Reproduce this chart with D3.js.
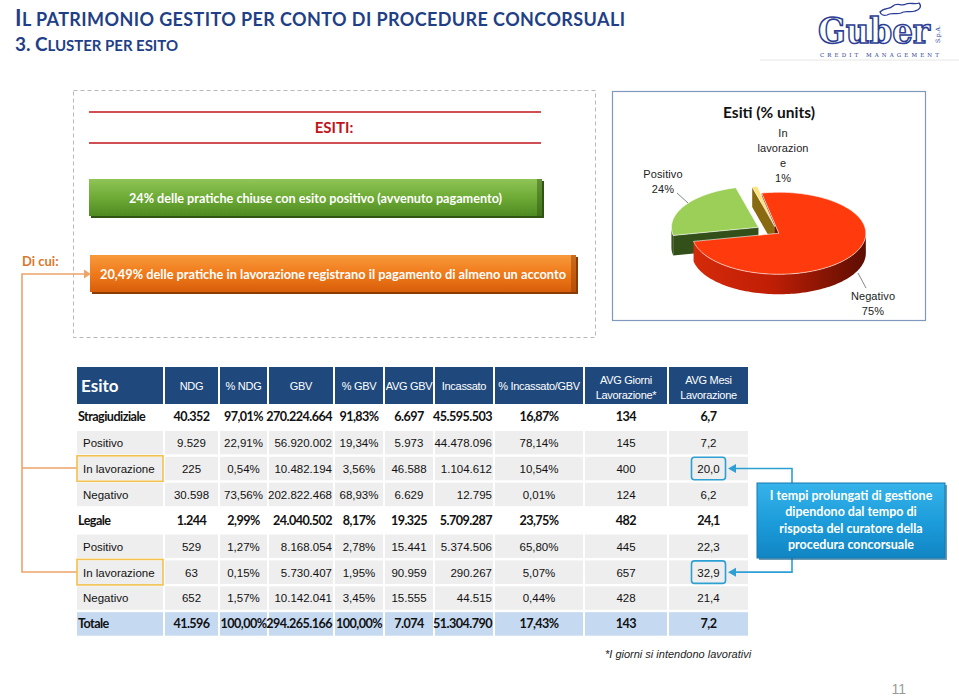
<!DOCTYPE html>
<html><head><meta charset="utf-8">
<script src="https://cdn.jsdelivr.net/npm/d3@7"></script>
<style>body{margin:0;background:#fff}svg{display:block}</style>
</head><body>
<script>
// ---------- DATA ----------
const titleLine1 = "Il patrimonio gestito per conto di procedure concorsuali";
const titleLine2 = "3. Cluster per esito";
const esitiHeading = "ESITI:";
const greenMessage = "24% delle pratiche chiuse con esito positivo (avvenuto pagamento)";
const diCui = "Di cui:";
const orangeMessage = "20,49% delle pratiche in lavorazione registrano il pagamento di almeno un acconto";

const pieTitle = "Esiti (% units)";
const pieCategories = ["Negativo", "Positivo", "In lavorazione"];
const pieValues = [75, 24, 1];

const headers = ["Esito", "NDG", "% NDG", "GBV", "% GBV", "AVG GBV", "Incassato", "% Incassato/GBV", "AVG Giorni|Lavorazione*", "AVG Mesi|Lavorazione"];
const esito = ["Stragiudiziale", "Positivo", "In lavorazione", "Negativo", "Legale", "Positivo", "In lavorazione", "Negativo", "Totale"];
const rowType = ["group", "sub", "sub", "sub", "group", "sub", "sub", "sub", "total"];
const ndg = ["40.352", "9.529", "225", "30.598", "1.244", "529", "63", "652", "41.596"];
const pctNdg = ["97,01%", "22,91%", "0,54%", "73,56%", "2,99%", "1,27%", "0,15%", "1,57%", "100,00%"];
const gbv = ["270.224.664", "56.920.002", "10.482.194", "202.822.468", "24.040.502", "8.168.054", "5.730.407", "10.142.041", "294.265.166"];
const pctGbv = ["91,83%", "19,34%", "3,56%", "68,93%", "8,17%", "2,78%", "1,95%", "3,45%", "100,00%"];
const avgGbv = ["6.697", "5.973", "46.588", "6.629", "19.325", "15.441", "90.959", "15.555", "7.074"];
const incassato = ["45.595.503", "44.478.096", "1.104.612", "12.795", "5.709.287", "5.374.506", "290.267", "44.515", "51.304.790"];
const pctIncassato = ["16,87%", "78,14%", "10,54%", "0,01%", "23,75%", "65,80%", "5,07%", "0,44%", "17,43%"];
const avgGiorni = ["134", "145", "400", "124", "482", "445", "657", "428", "143"];
const avgMesi = ["6,7", "7,2", "20,0", "6,2", "24,1", "22,3", "32,9", "21,4", "7,2"];

const noteText = ["I tempi prolungati di gestione", "dipendono dal tempo di", "risposta del curatore della", "procedura concorsuale"];
const footnote = "*I giorni si intendono lavorativi";
const pageNumber = "11";

// ---------- LAYOUT ----------
const W = 959, H = 697;
const colEdges = [[77,163],[165,218],[220,267],[269,333],[335,383],[385,433],[435,493],[495,583],[585,667],[669,748]];
const colAlign = ["left","middle","middle","end","middle","middle","end","middle","middle","middle"];
const columns = [esito, ndg, pctNdg, gbv, pctGbv, avgGbv, incassato, pctIncassato, avgGiorni, avgMesi];

const svg = d3.select("body").append("svg").attr("width", W).attr("height", H)
  .style("font-family", "'Liberation Sans', Arial, sans-serif");
const defs = svg.append("defs");

function vGrad(id, stops) {
  const g = defs.append("linearGradient").attr("id", id).attr("x1",0).attr("y1",0).attr("x2",0).attr("y2",1);
  stops.forEach(([o,c]) => g.append("stop").attr("offset", o).attr("stop-color", c));
}
function hGrad(id, stops) {
  const g = defs.append("linearGradient").attr("id", id).attr("x1",0).attr("y1",0).attr("x2",1).attr("y2",0);
  stops.forEach(([o,c]) => g.append("stop").attr("offset", o).attr("stop-color", c));
}
vGrad("gGreen", [[0,"#8fc456"],[0.5,"#6eab36"],[1,"#4f8a22"]]);
vGrad("gOrange", [[0,"#f79a3c"],[0.5,"#f07a1a"],[1,"#d85e0a"]]);
vGrad("gBlue", [[0,"#35b3ea"],[0.5,"#1d9ddb"],[1,"#1185c4"]]);
hGrad("gRedSide", [[0,"#d42a0a"],[0.45,"#c01e05"],[1,"#5c0e02"]]);
hGrad("gGreenSide", [[0,"#2f4a16"],[1,"#3f5f20"]]);

// ---------- TITLE ----------
const titleColor = "#1f3f87";
function smallCapsTitle(y, text, x, big, small, len) {
  const t = svg.append("text").attr("x", x).attr("y", y).attr("fill", titleColor)
    .style("font-family", "Lato, 'Open Sans', sans-serif").style("font-weight", 700)
    .attr("textLength", len).attr("lengthAdjust", "spacing");
  const words = text.split(" ");
  words.forEach((w, wi) => {
    const isFirstBig = wi === 0 || (wi === 1 && /^\d/.test(words[0]));
    const pre = wi > 0 ? " " : "";
    if (isFirstBig) {
      if (/^\d/.test(w)) {
        t.append("tspan").attr("font-size", big).text(pre + w);
      } else {
        t.append("tspan").attr("font-size", big).text(pre + w[0].toUpperCase());
        t.append("tspan").attr("font-size", small).text(w.slice(1).toUpperCase());
      }
    } else {
      t.append("tspan").attr("font-size", small).text(pre + w.toUpperCase());
    }
  });
  return t;
}
smallCapsTitle(26, titleLine1, 15, 22, 18, 610);
smallCapsTitle(51, titleLine2, 15, 19, 15, 163);

// ---------- LOGO ----------
const logo = svg.append("g");
logo.append("text").attr("x", 818).attr("y", 43).text("Guber")
  .attr("font-size", 36).attr("font-weight", 700)
  .style("font-family", "'DejaVu Serif', serif")
  .attr("textLength", 112).attr("lengthAdjust", "spacingAndGlyphs")
  .attr("fill", "#fff").attr("stroke", "#2b3d94").attr("stroke-width", 1.6);
logo.append("text").attr("transform", "translate(940,43) rotate(-90)").text("S.p.A.")
  .attr("font-size", 6).attr("fill", "#2b3d94").style("font-family", "'DejaVu Serif', serif");
logo.append("text").attr("x", 820).attr("y", 57).text("CREDIT MANAGEMENT")
  .attr("font-size", 5.5).attr("letter-spacing", 3.1).attr("fill", "#2b3d94")
  .style("font-family", "'DejaVu Serif', serif");
logo.append("path")
  .attr("d", "M880,12 C884,7 889,10 893,6 C897,2 902,7 906,4 C910,2 915,5 919,3 C922,6 920,10 915,11 C911,13 905,10 901,13 C897,15 891,12 887,15 C884,16 881,15 880,12 Z")
  .attr("fill", "#fff").attr("stroke", "#2b3d94").attr("stroke-width", 1.3);
svg.append("line").attr("x1", 760).attr("x2", 959).attr("y1", 60).attr("y2", 60).attr("stroke", "#e6e6e6");

// ---------- ESITI BOX ----------
svg.append("rect").attr("x", 73.5).attr("y", 90.5).attr("width", 522).attr("height", 247)
  .attr("fill", "none").attr("stroke", "#b8b8b8").attr("stroke-dasharray", "4,3");
[112, 143].forEach(y => svg.append("line").attr("x1", 89).attr("x2", 541).attr("y1", y).attr("y2", y)
  .attr("stroke", "#c0141c").attr("stroke-width", 1.6));
svg.append("text").attr("x", 334).attr("y", 133).attr("text-anchor", "middle").text(esitiHeading)
  .attr("fill", "#c0141c").attr("font-size", 15).attr("font-weight", 700)
  .style("font-family", "Lato, sans-serif");

function banner(x, y, w, h, fill, shadow, text, len) {
  svg.append("rect").attr("x", x + 2).attr("y", y + 2).attr("width", w).attr("height", h).attr("fill", shadow);
  svg.append("rect").attr("x", x).attr("y", y).attr("width", w).attr("height", h).attr("fill", fill);
  svg.append("rect").attr("x", x + w - 5).attr("y", y).attr("width", 5).attr("height", h).attr("fill", shadow).attr("opacity", 0.45);
  svg.append("text").attr("x", x + w / 2).attr("y", y + h / 2 + 5).attr("text-anchor", "middle").text(text)
    .attr("fill", "#fff").attr("font-size", 14).attr("font-weight", 700)
    .attr("textLength", len).attr("lengthAdjust", "spacingAndGlyphs")
    .style("font-family", "Lato, 'Open Sans', sans-serif");
}
banner(89, 179, 453, 37, "url(#gGreen)", "#2f5413", greenMessage, 373);
banner(90, 255, 486, 37, "url(#gOrange)", "#8a3a05", orangeMessage, 466);

// Di cui + orange connectors
const orangeLine = "#eba46a";
svg.append("text").attr("x", 22).attr("y", 266).text(diCui).attr("fill", "#d9782d")
  .attr("font-size", 13).attr("font-weight", 700).style("font-family", "Lato, sans-serif");
svg.append("path").attr("d", "M78,468 H22 V572 H78 M22,468 V274 H84")
  .attr("fill", "none").attr("stroke", orangeLine).attr("stroke-width", 1.6);
svg.append("path").attr("d", "M84,269.5 L91,274 L84,278.5 Z").attr("fill", orangeLine);

// ---------- PIE ----------
svg.append("rect").attr("x", 612.5).attr("y", 91.5).attr("width", 313).attr("height", 229)
  .attr("fill", "#fff").attr("stroke", "#8198bd").attr("stroke-width", 1.2);
svg.append("text").attr("x", 769).attr("y", 118).attr("text-anchor", "middle").text(pieTitle)
  .attr("font-size", 15.5).attr("font-weight", 700).style("font-family", "Lato, sans-serif").attr("fill", "#111");

const pieCx = 778, pieCy = 233, rx = 87, ry = 41, depth = 20;
const explode = {"Negativo": 1, "Positivo": 23, "In lavorazione": 14};
const topColor = {"Negativo": "#ff3a0c", "Positivo": "#9bcf58", "In lavorazione": "#ffe27a"};
const sideColor = {"Negativo": "url(#gRedSide)", "Positivo": "url(#gGreenSide)", "In lavorazione": "#8a6a10"};
const radialColor = {"Negativo": "#6e1002", "Positivo": "#34501a", "In lavorazione": "#8a6a10"};

const pieGen = d3.pie().sort(null).startAngle(-0.2).endAngle(-0.2 + 2 * Math.PI);
const arcs = pieGen(pieValues).map((a, i) => ({...a, label: pieCategories[i]}));
arcs.forEach(a => {
  const mid = (a.startAngle + a.endAngle) / 2;
  const e = explode[a.label];
  a.cx = pieCx + e * Math.sin(mid);
  a.cy = pieCy - e * Math.cos(mid) * (ry / rx);
});
const P = (a, ang, dy = 0) => [a.cx + rx * Math.sin(ang), a.cy - ry * Math.cos(ang) + dy];
const lineGen = d3.line();
function rim(a, a0, a1, dy = 0) {
  const n = Math.max(2, Math.ceil(Math.abs(a1 - a0) / 0.03));
  return d3.range(n + 1).map(k => P(a, a0 + (a1 - a0) * k / n, dy));
}
const pieG = svg.append("g");
arcs.forEach(a => {
  if (Math.sin(a.startAngle) < 0) {
    const p = P(a, a.startAngle);
    pieG.append("path").attr("d", lineGen([[a.cx, a.cy], p, [p[0], p[1] + depth], [a.cx, a.cy + depth]]) + "Z")
      .attr("fill", radialColor[a.label]);
  }
  if (Math.sin(a.endAngle) > 0) {
    const p = P(a, a.endAngle);
    pieG.append("path").attr("d", lineGen([[a.cx, a.cy], p, [p[0], p[1] + depth], [a.cx, a.cy + depth]]) + "Z")
      .attr("fill", radialColor[a.label]);
  }
});
arcs.forEach(a => {
  [[Math.PI / 2, 3 * Math.PI / 2], [Math.PI / 2 - 2 * Math.PI, -Math.PI / 2]].forEach(([v0, v1]) => {
    const b0 = Math.max(a.startAngle, v0), b1 = Math.min(a.endAngle, v1);
    if (b1 > b0) {
      const pts = rim(a, b0, b1).concat(rim(a, b1, b0, depth));
      pieG.append("path").attr("d", lineGen(pts) + "Z").attr("fill", sideColor[a.label]);
    }
  });
});
arcs.forEach(a => {
  const pts = [[a.cx, a.cy]].concat(rim(a, a.startAngle, a.endAngle));
  pieG.append("path").attr("d", lineGen(pts) + "Z").attr("fill", topColor[a.label])
    .attr("stroke", "#fff").attr("stroke-opacity", 0.75).attr("stroke-width", 0.8);
});
const pieLabelPos = {
  "Negativo": {x: 873, y: [300, 315], lines: ["Negativo"], leader: [[858, 273], [866, 288]]},
  "Positivo": {x: 663, y: [178, 193], lines: ["Positivo"], leader: [[677, 193], [688, 203]]},
  "In lavorazione": {x: 783, y: [137, 152, 167, 182], lines: ["In", "lavorazion", "e"], leader: null}
};
arcs.forEach(a => {
  const L = pieLabelPos[a.label];
  const lines = L.lines.concat([a.data + "%"]);
  lines.forEach((s, i) => svg.append("text").attr("x", L.x).attr("y", L.y[i]).attr("text-anchor", "middle")
    .text(s).attr("font-size", 11).attr("fill", "#222").attr("letter-spacing", 0.1));
  if (L.leader) svg.append("path").attr("d", lineGen(L.leader)).attr("stroke", "#888").attr("fill", "none");
});

// ---------- TABLE ----------
const headerTop = 367, headerBottom = 404;
const y = d3.scaleBand().domain(d3.range(esito.length)).range([405, 635.7]).paddingInner(0.093);
const tbl = svg.append("g");
colEdges.forEach(([x0, x1], ci) => {
  tbl.append("rect").attr("x", x0).attr("y", headerTop).attr("width", x1 - x0).attr("height", headerBottom - headerTop)
    .attr("fill", "#1f497d");
  const parts = headers[ci].split("|");
  const cx = (x0 + x1) / 2;
  if (ci === 0) {
    tbl.append("text").attr("x", x0 + 4).attr("y", 392).text(parts[0]).attr("fill", "#fff")
      .attr("font-size", 17).attr("font-weight", 700).style("font-family", "Lato, sans-serif");
  } else {
    parts.forEach((p, k) => tbl.append("text").attr("x", cx)
      .attr("y", parts.length === 1 ? 390 : 384 + k * 15).attr("text-anchor", "middle").text(p)
      .attr("fill", "#fff").attr("font-size", 11).attr("letter-spacing", -0.3));
  }
});
esito.forEach((_, ri) => {
  const t = rowType[ri];
  const fill = t === "sub" ? "#eeeeee" : t === "total" ? "#c5d9f1" : "none";
  colEdges.forEach(([x0, x1], ci) => {
    if (fill !== "none") tbl.append("rect").attr("x", x0).attr("y", y(ri)).attr("width", x1 - x0)
      .attr("height", y.bandwidth()).attr("fill", fill);
    const val = columns[ci][ri];
    const anchor = colAlign[ci];
    const x = anchor === "left" ? x0 + (t === "sub" ? 6 : 1) : anchor === "end" ? x1 - 1 : (x0 + x1) / 2;
    const txt = tbl.append("text").attr("x", x).attr("y", y(ri) + y.bandwidth() / 2 + 4.4)
      .attr("text-anchor", anchor === "left" ? "start" : anchor).text(val).attr("fill", "#111");
    if (t === "sub") txt.attr("font-size", 11.5);
    else txt.attr("font-size", 12.6).attr("font-weight", 700).attr("letter-spacing", -0.55)
      .style("font-family", "Lato, sans-serif");
  });
});
esito.forEach((e, ri) => {
  if (e === "In lavorazione") {
    tbl.append("rect").attr("x", colEdges[0][0]).attr("y", y(ri) - 1).attr("width", colEdges[0][1] - colEdges[0][0])
      .attr("height", y.bandwidth() + 2).attr("fill", "none").attr("stroke", "#f2c14e").attr("stroke-width", 1.6);
    const c = colEdges[9];
    const bx = (c[0] + c[1]) / 2 - 17;
    tbl.append("rect").attr("x", bx).attr("y", y(ri) + 0.5).attr("width", 34).attr("height", y.bandwidth() - 1)
      .attr("rx", 3).attr("fill", "none").attr("stroke", "#2d9fd2").attr("stroke-width", 1.6);
    const cy = y(ri) + y.bandwidth() / 2;
    const yTarget = cy < 520 ? 483 : 558;
    tbl.append("path").attr("d", `M735,${cy} H792 V${yTarget}`).attr("fill", "none")
      .attr("stroke", "#2d9fd2").attr("stroke-width", 1.6);
    tbl.append("path").attr("d", `M736,${cy - 4.5} L728,${cy} L736,${cy + 4.5} Z`).attr("fill", "#2d9fd2");
  }
});

// ---------- NOTE BOX ----------
svg.append("rect").attr("x", 759).attr("y", 485).attr("width", 188).attr("height", 75).attr("fill", "#0c5a86").attr("opacity", 0.6);
svg.append("rect").attr("x", 757).attr("y", 483).attr("width", 188).attr("height", 75).attr("fill", "url(#gBlue)")
  .attr("stroke", "#1478b0").attr("stroke-width", 1);
noteText.forEach((s, i) => svg.append("text").attr("x", 851).attr("y", 500 + i * 16.3).attr("text-anchor", "middle")
  .text(s).attr("fill", "#fff").attr("font-size", 12.5).attr("font-weight", 700).style("font-family", "Lato, sans-serif"));

// ---------- FOOTER ----------
svg.append("text").attr("x", 605).attr("y", 658).text(footnote).attr("font-size", 11)
  .attr("font-style", "italic").attr("fill", "#222");
svg.append("text").attr("x", 906).attr("y", 694).attr("text-anchor", "end").text(pageNumber)
  .attr("font-size", 14).attr("fill", "#9a9a9a");
</script>
</body></html>
